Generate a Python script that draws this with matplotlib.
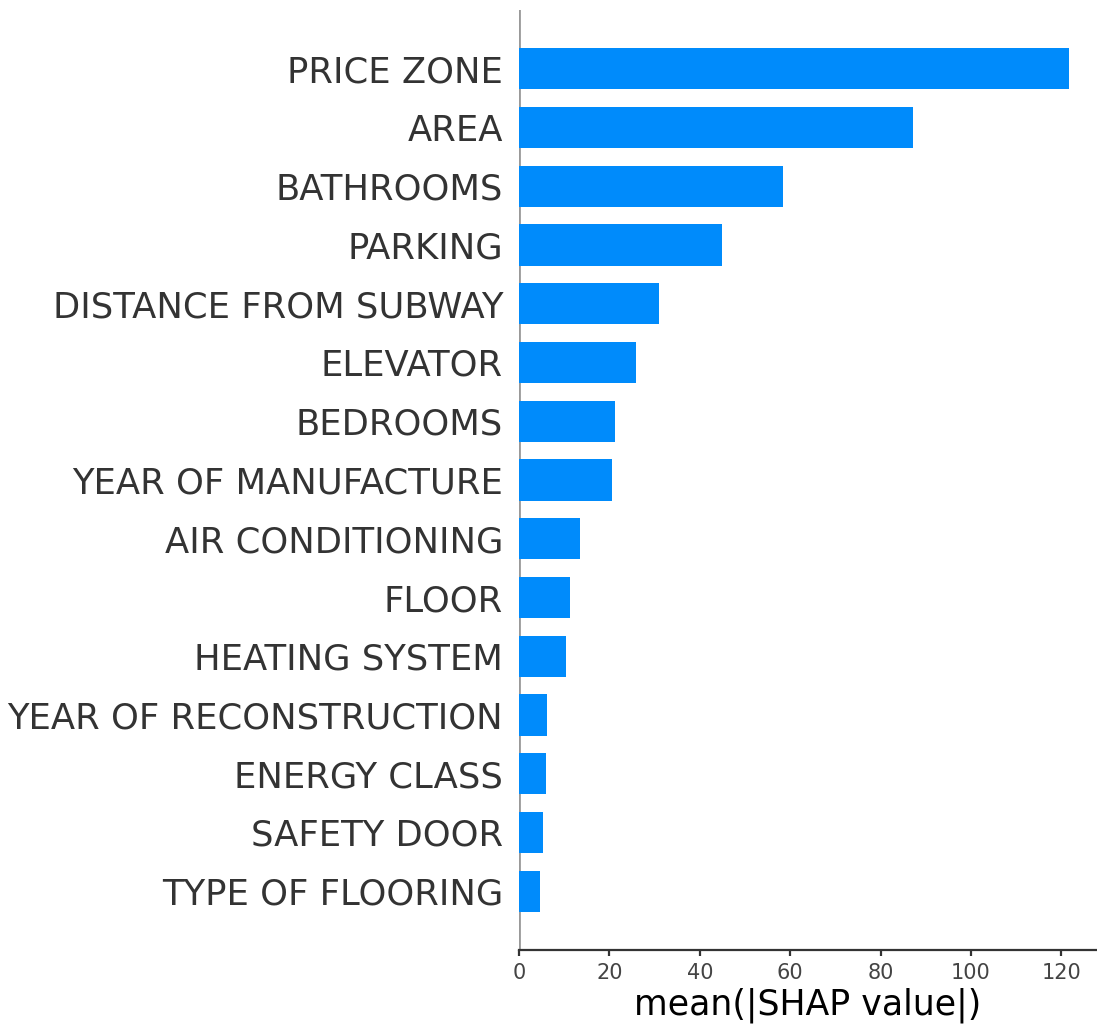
import matplotlib
matplotlib.use("Agg")
import matplotlib.pyplot as plt
import numpy as np

# feature importances, top to bottom
features = ["PRICE ZONE", "AREA", "BATHROOMS", "PARKING", "DISTANCE FROM SUBWAY",
            "ELEVATOR", "BEDROOMS", "YEAR OF MANUFACTURE", "AIR CONDITIONING",
            "FLOOR", "HEATING SYSTEM", "YEAR OF RECONSTRUCTION", "ENERGY CLASS",
            "SAFETY DOOR", "TYPE OF FLOORING"]
mean_abs_shap = [121.8, 87.1, 58.4, 44.9, 30.9, 25.8, 21.2, 20.5, 13.4,
                 11.2, 10.3, 6.2, 5.9, 5.2, 4.6]

# barh draws from the bottom, so reverse
feat = features[::-1]
vals = mean_abs_shap[::-1]
y_pos = np.arange(len(feat))

fig = plt.figure(figsize=(10.97, 10.27), dpi=100)
ax = fig.add_axes([519 / 1097, 77 / 1027, 578 / 1097, 940 / 1027])

ax.barh(y_pos, vals, height=0.7, align='center', color='#008bfb')
ax.axvline(0, 0, 1, color='#999999', linestyle='-', linewidth=2, zorder=-1)

ax.set_yticks(y_pos)
ax.set_yticklabels(feat, fontsize=25.5, color='#333333')
ax.set_ylim(-1, len(feat))
ax.set_xlim(left=0)

ax.spines['right'].set_visible(False)
ax.spines['top'].set_visible(False)
ax.spines['left'].set_visible(False)
ax.spines['bottom'].set_color('#333333')
ax.spines['bottom'].set_linewidth(1.6)
ax.tick_params(axis='y', length=0, pad=11.5)
ax.tick_params(axis='x', labelsize=15, colors='#333333', length=4.5, width=1.6,
               pad=5, labelcolor='#444444')
ax.set_xlabel('mean(|SHAP value|)', fontsize=25, color='black', labelpad=3)

fig.savefig('out.png', dpi=100)
